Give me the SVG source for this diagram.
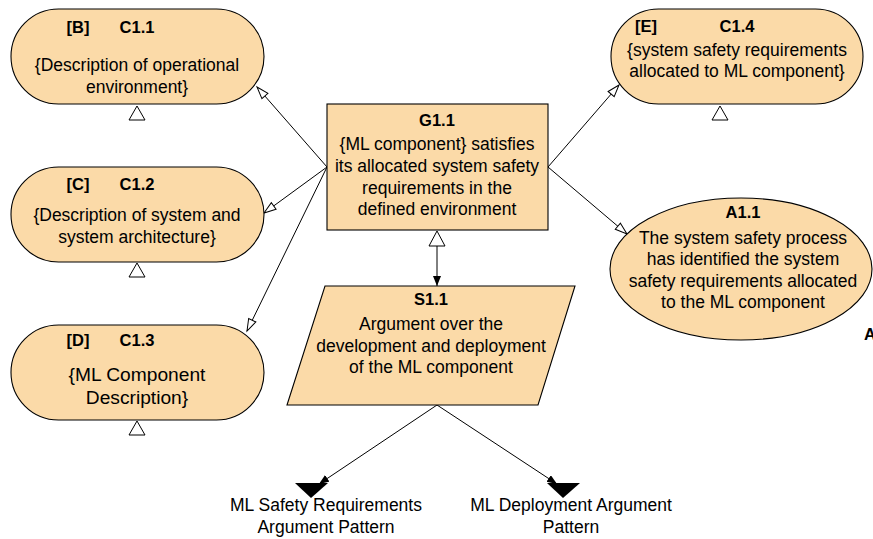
<svg xmlns="http://www.w3.org/2000/svg" width="873" height="539" viewBox="0 0 873 539">
  <style>
    .node { fill: #FBDAA8; stroke: #000; stroke-width: 1.1; }
    .t { font-family: "Liberation Sans", "DejaVu Sans", sans-serif; font-size: 17.5px; fill: #000; text-anchor: middle; }
    .b { font-weight: bold; font-size: 16.5px; }
    .big { font-size: 19.2px; }
    .edge { stroke: #000; stroke-width: 1; fill: none; }
    .tri { fill: #fff; stroke: #000; stroke-width: 1; }
  </style>
  <defs>
    <marker id="hollow" markerUnits="userSpaceOnUse" markerWidth="16" markerHeight="12" refX="13" refY="5" orient="auto">
      <path d="M1,1 L13,5 L1,9 z" fill="#fff" stroke="#000" stroke-width="1"/>
    </marker>
    <marker id="solid" markerUnits="userSpaceOnUse" markerWidth="12" markerHeight="10" refX="10" refY="4" orient="auto">
      <path d="M0,0 L10,4 L0,8 z" fill="#000"/>
    </marker>
  </defs>

  <!-- connectors -->
  <g id="connectors">
    <line class="edge" x1="327" y1="167" x2="257" y2="87" marker-end="url(#hollow)"/>
    <line class="edge" x1="327" y1="167" x2="264" y2="213" marker-end="url(#hollow)"/>
    <line class="edge" x1="327" y1="167" x2="247" y2="331" marker-end="url(#hollow)"/>
    <line class="edge" x1="548" y1="167" x2="619" y2="85" marker-end="url(#hollow)"/>
    <line class="edge" x1="548" y1="167" x2="627" y2="234" marker-end="url(#hollow)"/>
    <!-- G1.1 to S1.1 -->
    <polygon class="tri" points="437,231 429,246 445,246"/>
    <line class="edge" x1="437" y1="246" x2="437" y2="286" marker-end="url(#solid)"/>
    <!-- S1.1 to away patterns -->
    <line class="edge" x1="437" y1="405" x2="319" y2="484" marker-end="url(#solid)"/>
    <line class="edge" x1="437" y1="405" x2="557" y2="484" marker-end="url(#solid)"/>
  </g>

  <g id="C1.1">
    <rect class="node" x="11" y="9" width="253" height="95" rx="47.5" ry="47.5"/>
    <text class="t b" x="78" y="33">[B]</text>
    <text class="t b" x="137" y="33">C1.1</text>
    <text class="t" x="137" y="71">{Description of operational</text>
    <text class="t" x="137" y="93">environment}</text>
    <polygon class="tri" points="137,106 129,120 145,120"/>
  </g>

  <g id="C1.2">
    <rect class="node" x="11" y="167" width="253" height="95" rx="47.5" ry="47.5"/>
    <text class="t b" x="78" y="190">[C]</text>
    <text class="t b" x="137" y="190">C1.2</text>
    <text class="t" x="137" y="221">{Description of system and</text>
    <text class="t" x="137" y="243">system architecture}</text>
    <polygon class="tri" points="137,263 129,277 145,277"/>
  </g>

  <g id="C1.3">
    <rect class="node" x="11" y="325" width="253" height="95" rx="47.5" ry="47.5"/>
    <text class="t b" x="78" y="346">[D]</text>
    <text class="t b" x="137" y="346">C1.3</text>
    <text class="t big" x="137" y="381">{ML Component</text>
    <text class="t big" x="137" y="404">Description}</text>
    <polygon class="tri" points="137,421 129,435 145,435"/>
  </g>

  <g id="C1.4">
    <rect class="node" x="611" y="9" width="252" height="95" rx="47.5" ry="47.5"/>
    <text class="t b" x="646" y="32">[E]</text>
    <text class="t b" x="737" y="32">C1.4</text>
    <text class="t" x="737" y="56">{system safety requirements</text>
    <text class="t" x="737" y="77">allocated to ML component}</text>
    <polygon class="tri" points="720,106 712,120 728,120"/>
  </g>

  <g id="G1.1">
    <rect class="node" x="327" y="104" width="221" height="126"/>
    <text class="t b" x="437" y="126">G1.1</text>
    <text class="t" x="437" y="150">{ML component} satisfies</text>
    <text class="t" x="437" y="172">its allocated system safety</text>
    <text class="t" x="437" y="194">requirements in the</text>
    <text class="t" x="437" y="215">defined environment</text>
  </g>

  <g id="S1.1">
    <polygon class="node" points="325,286 575,286 538,405 287,405"/>
    <text class="t b" x="431" y="305">S1.1</text>
    <text class="t" x="431" y="330">Argument over the</text>
    <text class="t" x="431" y="352">development and deployment</text>
    <text class="t" x="431" y="373">of the ML component</text>
  </g>

  <g id="A1.1">
    <ellipse class="node" cx="741" cy="269" rx="131" ry="71"/>
    <text class="t b" x="743" y="218">A1.1</text>
    <text class="t" x="743" y="244">The system safety process</text>
    <text class="t" x="743" y="265">has identified the system</text>
    <text class="t" x="743" y="287">safety requirements allocated</text>
    <text class="t" x="743" y="308">to the ML component</text>
    <text class="t b" x="864" y="340" style="text-anchor:start">A</text>
  </g>

  <g id="ML-Safety-Requirements">
    <polygon points="295,483 328,483 311,498" fill="#000"/>
    <text class="t" x="326" y="511">ML Safety Requirements</text>
    <text class="t" x="326" y="533">Argument Pattern</text>
  </g>

  <g id="ML-Deployment">
    <polygon points="547,483 580,483 563,498" fill="#000"/>
    <text class="t" x="571" y="511">ML Deployment Argument</text>
    <text class="t" x="571" y="533">Pattern</text>
  </g>
</svg>
